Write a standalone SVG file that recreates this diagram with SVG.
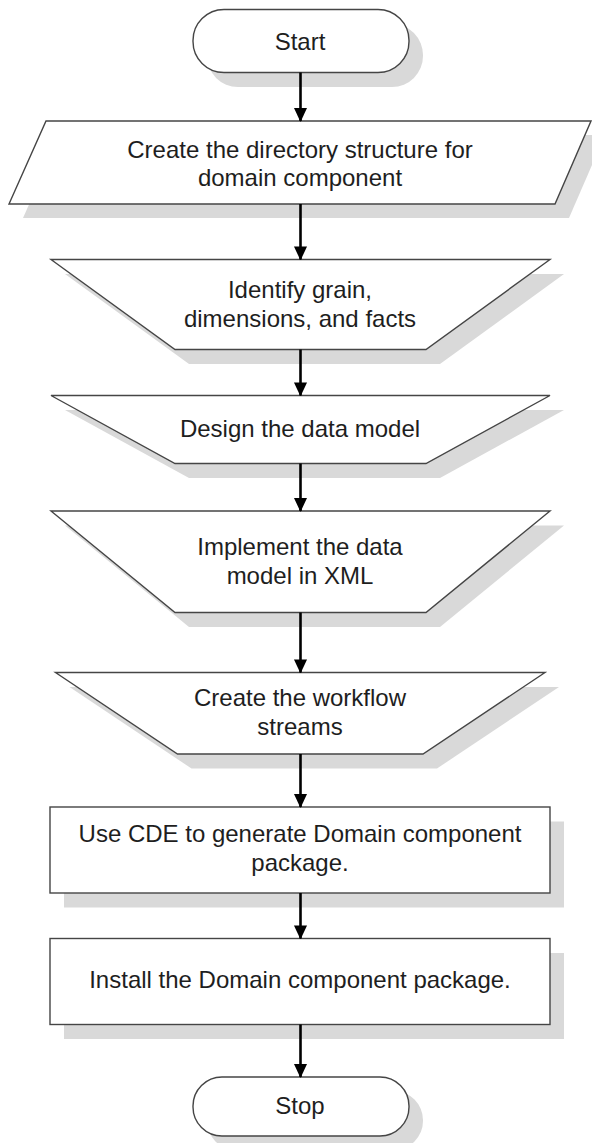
<svg xmlns="http://www.w3.org/2000/svg" width="592" height="1143" viewBox="0 0 592 1143">
<style>
.shape{fill:#ffffff;stroke:#454545;stroke-width:1.4}
.shadow{fill:#d9d9d9;stroke:none}
.label{font-family:"Liberation Sans",Arial,sans-serif;font-size:24px;fill:#1e1e1e;text-anchor:middle}
.conn{stroke:#000000;stroke-width:2.6;fill:none}
</style>
<defs>
<marker id="arrow" markerWidth="14" markerHeight="15" refX="14" refY="7" orient="auto" markerUnits="userSpaceOnUse" viewBox="0 0 15 14">
<path d="M0,0 L15,7 L0,14 Z" fill="#000000"/>
</marker>
</defs>
<rect width="592" height="1143" fill="#ffffff"/>
<g id="start">
<rect class="shadow" x="207" y="24" width="216" height="63" rx="31" ry="31"/>
<rect class="shape" x="193" y="9.5" width="216" height="63" rx="31" ry="31"/>
<text class="label" x="300" y="50">Start</text>
</g>
<g id="create-dir">
<polygon class="shadow" points="60,135 605,135 569,218 23,218"/>
<polygon class="shape" points="46,121 591,121 555,204 9,204"/>
<text class="label" x="300" y="158">Create the directory structure for</text>
<text class="label" x="300" y="186">domain component</text>
</g>
<g id="identify">
<polygon class="shadow" points="65,274 564,274 440,364 189,364"/>
<polygon class="shape" points="51,259.5 550,259.5 426,349.5 175,349.5"/>
<text class="label" x="300" y="298">Identify grain,</text>
<text class="label" x="300" y="327">dimensions, and facts</text>
</g>
<g id="design">
<polygon class="shadow" points="65,410 564,410 440,478 189,478"/>
<polygon class="shape" points="51,395.5 550,395.5 426,463.5 175,463.5"/>
<text class="label" x="300" y="437">Design the data model</text>
</g>
<g id="implement">
<polygon class="shadow" points="65,525.5 564,525.5 440,627 189,627"/>
<polygon class="shape" points="51,511 550,511 426,612.5 175,612.5"/>
<text class="label" x="300" y="555">Implement the data</text>
<text class="label" x="300" y="584">model in XML</text>
</g>
<g id="workflow">
<polygon class="shadow" points="69.5,687 559,687 437,768.5 191.5,768.5"/>
<polygon class="shape" points="55.5,672.5 545,672.5 423,754 177.5,754"/>
<text class="label" x="300" y="706">Create the workflow</text>
<text class="label" x="300" y="735">streams</text>
</g>
<g id="cde">
<rect class="shadow" x="64" y="821.5" width="500" height="86"/>
<rect class="shape" x="50" y="807" width="500" height="86"/>
<text class="label" x="300" y="842">Use CDE to generate Domain component</text>
<text class="label" x="300" y="871">package.</text>
</g>
<g id="install">
<rect class="shadow" x="64" y="953" width="500" height="86"/>
<rect class="shape" x="50" y="938.5" width="500" height="86"/>
<text class="label" x="300" y="988">Install the Domain component package.</text>
</g>
<g id="stop">
<rect class="shadow" x="207" y="1091" width="216" height="59" rx="29" ry="29"/>
<rect class="shape" x="193" y="1077" width="216" height="59" rx="29" ry="29"/>
<text class="label" x="300" y="1114">Stop</text>
</g>
<g id="connectors">
<line class="conn" x1="300.5" y1="72.5" x2="300.5" y2="121" marker-end="url(#arrow)"/>
<line class="conn" x1="300.5" y1="204" x2="300.5" y2="259.5" marker-end="url(#arrow)"/>
<line class="conn" x1="300.5" y1="349.5" x2="300.5" y2="395.5" marker-end="url(#arrow)"/>
<line class="conn" x1="300.5" y1="463.5" x2="300.5" y2="511" marker-end="url(#arrow)"/>
<line class="conn" x1="300.5" y1="612.5" x2="300.5" y2="672.5" marker-end="url(#arrow)"/>
<line class="conn" x1="300.5" y1="754" x2="300.5" y2="807" marker-end="url(#arrow)"/>
<line class="conn" x1="300.5" y1="893" x2="300.5" y2="938.5" marker-end="url(#arrow)"/>
<line class="conn" x1="300.5" y1="1024.5" x2="300.5" y2="1077" marker-end="url(#arrow)"/>
</g>
</svg>
